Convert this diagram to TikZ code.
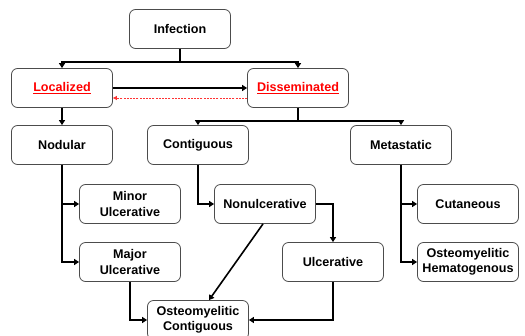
\documentclass[tikz,border=0pt]{standalone}
\usepackage{fontspec}
\setmainfont{Liberation Sans}
\usetikzlibrary{arrows.meta}
\tikzset{
  box/.style={draw=black!70, line width=0.8pt, rounded corners=6pt, fill=white,
    minimum width=101pt, minimum height=39pt, align=center, inner sep=1pt,
    font=\fontsize{12.6}{15.5}\selectfont\bfseries},
  redbox/.style={box, text=red},
  arr/.style={line width=1.6pt, -{Triangle[length=5pt,width=6pt]}},
  back/.style={red!80, dashed, dash pattern=on 2pt off 1.2pt, line width=0.7pt,
    -{Triangle[length=4pt,width=4pt]}}
}
\begin{document}
\begin{tikzpicture}[x=1pt,y=-1pt]
  %frame
  \useasboundingbox (0,0) rectangle (525,335);
  % top
  \node[box] (infection) at (180,29) {Infection};
  \node[redbox] (localized) at (62,88) {\underline{Localized}};
  \node[redbox] (disseminated) at (298,88) {\underline{Disseminated}};
  % second row
  \node[box] (nodular) at (62,145) {Nodular};
  \node[box] (contiguous) at (198,145) {Contiguous};
  \node[box] (metastatic) at (401,145) {Metastatic};
  % leaves
  \node[box] (minor) at (130,204) {Minor\\Ulcerative};
  \node[box] (major) at (130,262) {Major\\Ulcerative};
  \node[box] (nonulc) at (265,204) {Nonulcerative};
  \node[box] (ulc) at (333,262) {Ulcerative};
  \node[box] (ostcont) at (198,320) {Osteomyelitic\\Contiguous};
  \node[box] (cutaneous) at (468,204) {Cutaneous};
  \node[box] (osthem) at (468,262) {Osteomyelitic\\Hematogenous};
  % connectors
  \draw[arr] (infection.south) -- ++(0,13) -| (localized.north);
  \draw[arr] (infection.south) -- ++(0,13) -| (disseminated.north);
  \draw[arr] (localized.east) -- (disseminated.west);
  \draw[back] ([yshift=-10pt]disseminated.west) -- ([yshift=-10pt]localized.east);
  \draw[arr] (localized.south) -- (nodular.north);
  \draw[arr] (disseminated.south) -- ++(0,13) -| (contiguous.north);
  \draw[arr] (disseminated.south) -- ++(0,13) -| (metastatic.north);
  \draw[arr] (nodular.south) |- (minor.west);
  \draw[arr] (nodular.south) |- (major.west);
  \draw[arr] (contiguous.south) |- (nonulc.west);
  \draw[arr] (nonulc.east) -| (ulc.north);
  \draw[arr] ([xshift=-2pt]nonulc.south) -- ([xshift=11pt]ostcont.north);
  \draw[arr] (major.south) |- (ostcont.west);
  \draw[arr] (ulc.south) |- (ostcont.east);
  \draw[arr] (metastatic.south) |- (cutaneous.west);
  \draw[arr] (metastatic.south) |- (osthem.west);
\end{tikzpicture}
\end{document}
